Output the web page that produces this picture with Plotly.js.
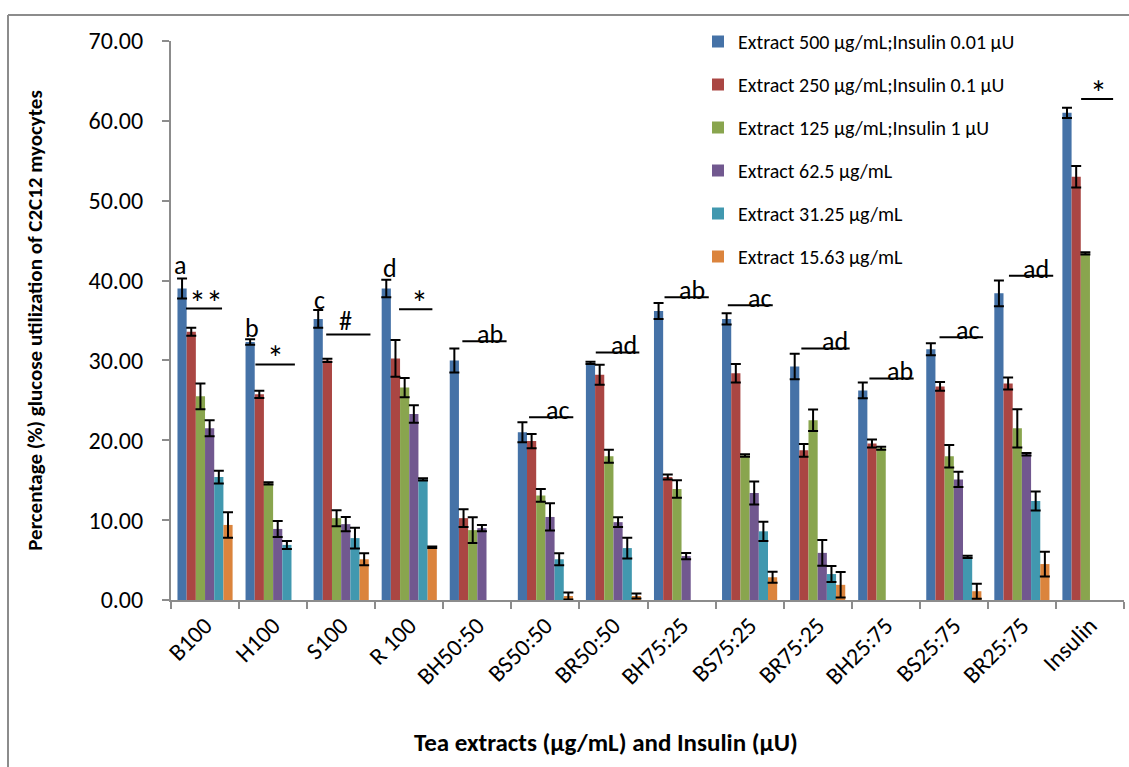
<!DOCTYPE html>
<html>
<head>
<meta charset="utf-8">
<script src="https://cdn.plot.ly/plotly-3.0.1.min.js"></script>
<style>
html,body{margin:0;padding:0;background:#fff;}
#chart{width:1129px;height:767px;}
</style>
</head>
<body>
<div id="chart"></div>
<script>
// ---- data ----
var categories = ['B100','H100','S100','R 100','BH50:50','BS50:50','BR50:50','BH75:25','BS75:25','BR75:25','BH25:75','BS25:75','BR25:75','Insulin'];
var seriesNames = ['Extract 500 \u00b5g/mL;Insulin 0.01 \u00b5U','Extract 250 \u00b5g/mL;Insulin 0.1 \u00b5U','Extract 125 \u00b5g/mL;Insulin 1 \u00b5U','Extract 62.5 \u00b5g/mL','Extract 31.25 \u00b5g/mL','Extract 15.63 \u00b5g/mL'];
var s500 = [39.0, 32.3, 35.2, 39.0, 30.0, 21.0, 29.7, 36.2, 35.2, 29.25, 26.25, 31.4, 38.4, 61.0];
var e500 = [1.25, 0.35, 1.1, 1.1, 1.5, 1.25, 0.15, 1.0, 0.7, 1.6, 1.0, 0.75, 1.6, 0.65];
var s250 = [33.6, 25.75, 30.0, 30.25, 10.25, 19.9, 28.2, 15.4, 28.4, 18.75, 19.6, 26.75, 27.1, 53.0];
var e250 = [0.5, 0.45, 0.2, 2.3, 1.1, 0.9, 1.25, 0.3, 1.15, 0.8, 0.5, 0.55, 0.75, 1.35];
var s125 = [25.5, 14.6, 10.25, 26.6, 8.75, 13.1, 18.0, 13.9, 18.1, 22.5, 19.0, 18.0, 21.5, 43.4];
var e125 = [1.6, 0.15, 1.0, 1.2, 1.6, 0.8, 0.8, 1.1, 0.15, 1.35, 0.2, 1.4, 2.4, 0.15];
var s62 = [21.5, 8.9, 9.5, 23.3, 9.0, 10.4, 9.75, 5.5, 13.4, 5.9, null, 15.1, 18.25, null];
var e62 = [1.0, 1.0, 0.9, 1.1, 0.4, 1.7, 0.6, 0.4, 1.45, 1.6, null, 0.95, 0.15, null];
var s31 = [15.4, 6.9, 7.75, 15.1, null, 5.1, 6.5, null, 8.6, 3.25, null, 5.4, 12.4, null];
var e31 = [0.8, 0.5, 1.3, 0.15, null, 0.75, 1.3, null, 1.2, 1.0, null, 0.15, 1.2, null];
var s15 = [9.4, null, 5.1, 6.6, null, 0.5, 0.5, null, 2.85, 1.9, null, 1.1, 4.5, null];
var e15 = [1.6, null, 0.75, 0.1, null, 0.45, 0.3, null, 0.7, 1.6, null, 0.95, 1.55, null];

// group letters above first bars
var letterText = ['a','b','c','d'];
var letterX = [-0.37, 0.69, 1.68, 2.71];
var letterY = [41.9, 34.1, 37.6, 41.6];

// significance marks (line + label)
var sigText = ['**','*','#','*','ab','ac','ad','ab','ac','ad','ab','ac','ad','*'];
var sigX0 = [-0.28, 0.74, 1.78, 2.85, 3.78, 4.76, 5.74, 6.75, 7.68, 8.76, 9.76, 10.79, 11.81, 12.87];
var sigX1 = [0.25, 1.32, 2.43, 3.34, 4.43, 5.41, 6.38, 7.40, 8.34, 9.47, 10.41, 11.43, 12.46, 13.34];
var sigY  = [36.5, 29.5, 33.25, 36.4, 32.4, 22.9, 31.0, 37.9, 36.9, 31.5, 27.75, 32.9, 40.6, 62.75];
var sigTX = [0.02, 1.04, 2.06, 3.15, 4.19, 5.18, 6.16, 7.16, 8.15, 9.26, 10.21, 11.2, 12.21, 13.13];

var colors = ['#4572A7','#AA4643','#89A54E','#71588F','#4198AF','#DB843D'];
var FONT = 'Carlito, Lato, "Open Sans", sans-serif';

var vals = [s500, s250, s125, s62, s31, s15];
var errs = [e500, e250, e125, e62, e31, e15];
var traces = vals.map(function(v, i){
  return {
    type: 'bar', name: seriesNames[i], x: categories, y: v,
    marker: {color: colors[i], line: {width: 0}},
    error_y: {type: 'data', array: errs[i], visible: true, color: '#000', thickness: 2, width: 5},
    legendgroup: 'g' + i
  };
});

var annotations = [];
var shapes = [];
letterText.forEach(function(t, i){
  annotations.push({x: letterX[i], y: letterY[i], xref: 'x', yref: 'y', text: t, showarrow: false,
    font: {family: FONT, size: 26, color: '#000'}});
});
sigText.forEach(function(t, i){
  shapes.push({type: 'line', xref: 'x', yref: 'y', x0: sigX0[i], x1: sigX1[i], y0: sigY[i], y1: sigY[i],
    line: {color: '#000', width: 2}});
  var isLetters = /[a-z]/.test(t);
  var isStar = t.indexOf('*') >= 0;
  annotations.push({x: sigTX[i], y: sigY[i], xref: 'x', yref: 'y', text: t, showarrow: false,
    yanchor: 'bottom', yshift: isLetters ? -11 : (isStar ? -17 : -5),
    font: {family: FONT, size: isStar ? 34 : 26, color: '#000'}});
});
// x axis title placed under the plot
annotations.push({xref: 'paper', yref: 'paper', x: (606 - 171) / 953, y: (600 - 742) / 559,
  text: '<b>Tea extracts (\u00b5g/mL) and Insulin (\u00b5U)</b>', showarrow: false,
  xanchor: 'center', yanchor: 'middle', font: {family: FONT, size: 25, color: '#000'}});

// outer frame
shapes.push({type: 'line', xref: 'paper', yref: 'paper', x0: (8 - 171) / 953, x1: 1.2,
  y0: (600 - 15) / 559, y1: (600 - 15) / 559, line: {color: '#8c8c8c', width: 2}});
shapes.push({type: 'line', xref: 'paper', yref: 'paper', x0: (8 - 171) / 953, x1: (8 - 171) / 953,
  y0: (600 - 15) / 559, y1: -0.5, line: {color: '#8c8c8c', width: 2}});

var layout = {
  width: 1129, height: 767,
  margin: {l: 171, r: 5, t: 41, b: 167, pad: 0},
  paper_bgcolor: '#fff', plot_bgcolor: '#fff',
  font: {family: FONT, color: '#000'},
  barmode: 'group', bargap: 0.19, bargroupgap: 0,
  showlegend: true,
  legend: {x: (698 - 171) / 953, y: (600 - 22) / 559, xanchor: 'left', yanchor: 'top',
    font: {family: FONT, size: 20, color: '#000'}, tracegroupgap: 14, bgcolor: 'rgba(0,0,0,0)',
    itemwidth: 30},
  xaxis: {
    type: 'category', showgrid: false, zeroline: false, showline: true, linecolor: '#8c8c8c', linewidth: 2,
    ticks: 'outside', tickson: 'boundaries', ticklen: 7, tickcolor: '#8c8c8c', tickwidth: 2,
    tickangle: -45, tickfont: {family: FONT, size: 24, color: '#000'}, range: [-0.5, 13.5]
  },
  yaxis: {
    range: [0, 70], dtick: 10, tickformat: '.2f', showgrid: false, zeroline: false,
    showline: true, linecolor: '#8c8c8c', linewidth: 2, ticks: 'outside', ticklen: 7,
    tickcolor: '#8c8c8c', tickwidth: 2, tickfont: {family: FONT, size: 24, color: '#000'},
    ticklabelstandoff: 14,
    title: {text: '<b>Percentage (%) glucose utilization of C2C12 myocytes</b>', standoff: 40,
      font: {family: FONT, size: 21, color: '#000'}}
  },
  annotations: annotations,
  shapes: shapes
};

Plotly.newPlot('chart', traces, layout, {displayModeBar: false, staticPlot: true});
</script>
</body>
</html>
